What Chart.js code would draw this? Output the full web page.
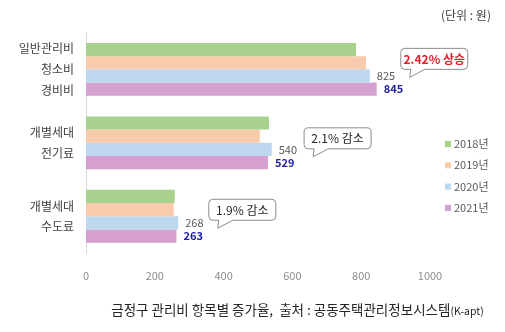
<!DOCTYPE html>
<html>
<head>
<meta charset="utf-8">
<script src="https://cdn.jsdelivr.net/npm/chart.js@4"></script>
<style>
  body { margin: 0; background: #fff; }
  #wrap { position: relative; width: 505px; height: 332px; font-family: "Noto Sans CJK KR", "Noto Sans", sans-serif; }
  #unit { position: absolute; left: 441px; top: 6px; font-size: 12px; color: #404040; }
  #caption { position: absolute; left: 0; width: 595px; top: 299px; text-align: center; font-size: 13.5px; color: #262626; }
  #caption small { font-size: 10.5px; }
</style>
</head>
<body>
<div id="wrap">
  <canvas id="myChart" width="505" height="332"></canvas>
  <div id="unit">(단위 : 원)</div>
  <div id="caption">금정구 관리비 항목별 증가율,&nbsp; 출처 : 공동주택관리정보시스템<small>(K-apt)</small></div>
</div>
<script>
// categories (multi-line labels)
const categories = [["일반관리비", "청소비", "경비비"], ["개별세대", "전기료"], ["개별세대", "수도료"]];
const years = ["2018년", "2019년", "2020년", "2021년"];
const values2018 = [785, 532, 258];
const values2019 = [814, 505, 255];
const values2020 = [825, 540, 268];
const values2021 = [845, 529, 263];
const xTicks = [0, 200, 400, 600, 800, 1000];
const callouts = [
  { cat: 0, text: "2.42% 상승", x: 915 },
  { cat: 1, text: "2.1% 감소", x: 634 },
  { cat: 2, text: "1.9% 감소", x: 357 },
];

const colors = ["#a9d18e", "#f8cbad", "#bdd7ee", "#d59fcf"];
const fontFamily = '"Noto Sans CJK KR", "Noto Sans", sans-serif';

// value labels for 2020 and 2021 only
const valueLabels = {
  id: "valueLabels",
  afterDatasetsDraw(chart) {
    const ctx = chart.ctx;
    ctx.save();
    ctx.textBaseline = "middle";
    ctx.textAlign = "left";
    [2, 3].forEach((di) => {
      const meta = chart.getDatasetMeta(di);
      meta.data.forEach((bar, i) => {
        const v = chart.data.datasets[di].data[i];
        if (di === 3) {
          ctx.font = "bold 11px " + fontFamily;
          ctx.fillStyle = "#2222a8";
        } else {
          ctx.font = "11px " + fontFamily;
          ctx.fillStyle = "#595959";
        }
        ctx.fillText(v, bar.x + 7, bar.y);
      });
    });
    ctx.restore();
  },
};

// speech bubble callouts
const calloutPlugin = {
  id: "callouts",
  afterDatasetsDraw(chart) {
    const ctx = chart.ctx;
    const xs = chart.scales.x;
    const ys = chart.scales.y;
    const dy = [-21, -15, -17];
    ctx.save();
    callouts.forEach((c, i) => {
      const left = xs.getPixelForValue(c.x);
      const top = ys.getPixelForValue(c.cat) + dy[i];
      const w = 67, h = 21, r = 4;
      const bottom = top + h;
      ctx.beginPath();
      ctx.moveTo(left + r, top);
      ctx.lineTo(left + w - r, top);
      ctx.arcTo(left + w, top, left + w, top + r, r);
      ctx.lineTo(left + w, bottom - r);
      ctx.arcTo(left + w, bottom, left + w - r, bottom, r);
      ctx.lineTo(left + 24, bottom);
      ctx.lineTo(left + 9, bottom + 8);
      ctx.lineTo(left + 10, bottom);
      ctx.lineTo(left + r, bottom);
      ctx.arcTo(left, bottom, left, bottom - r, r);
      ctx.lineTo(left, top + r);
      ctx.arcTo(left, top, left + r, top, r);
      ctx.closePath();
      ctx.fillStyle = "#fff";
      ctx.fill();
      ctx.strokeStyle = "#8c8c8c";
      ctx.lineWidth = 1;
      ctx.stroke();
      ctx.textAlign = "center";
      ctx.textBaseline = "middle";
      if (i === 0) {
        ctx.font = "bold 12px " + fontFamily;
        ctx.fillStyle = "#e0202a";
      } else {
        ctx.font = "12px " + fontFamily;
        ctx.fillStyle = "#262626";
      }
      ctx.fillText(c.text, left + w / 2, top + h / 2 + 0.5);
    });
    ctx.restore();
  },
};

// legend on the right side
const sideLegend = {
  id: "sideLegend",
  afterDraw(chart) {
    const ctx = chart.ctx;
    ctx.save();
    ctx.font = "11px " + fontFamily;
    ctx.textBaseline = "middle";
    ctx.textAlign = "left";
    chart.data.datasets.forEach((ds, i) => {
      const y = 144 + i * 21.3;
      ctx.fillStyle = ds.backgroundColor;
      ctx.fillRect(445, y - 3, 6, 6);
      ctx.fillStyle = "#595959";
      ctx.fillText(ds.label, 454, y);
    });
    ctx.restore();
  },
};

const ctx = document.getElementById("myChart");
new Chart(ctx, {
  type: "bar",
  data: {
    labels: categories,
    datasets: [
      { label: years[0], data: values2018, backgroundColor: colors[0] },
      { label: years[1], data: values2019, backgroundColor: colors[1] },
      { label: years[2], data: values2020, backgroundColor: colors[2] },
      { label: years[3], data: values2021, backgroundColor: colors[3] },
    ],
  },
  options: {
    indexAxis: "y",
    responsive: false,
    animation: false,
    layout: { padding: { top: 32, right: 75, bottom: 49, left: 0 } },
    datasets: { bar: { barPercentage: 1, categoryPercentage: 0.72 } },
    plugins: { legend: { display: false }, tooltip: { enabled: false } },
    scales: {
      x: {
        min: 0,
        max: 1000,
        afterBuildTicks: (axis) => {
          axis.ticks = xTicks.map((v) => ({ value: v }));
        },
        afterFit: (axis) => {
          axis.height = 30;
        },
        grid: { display: false },
        border: { display: false },
        ticks: {
          color: "#8c8c8c",
          font: { family: fontFamily, size: 11 },
          padding: 8,
          callback: (value) => String(value),
        },
      },
      y: {
        afterFit: (axis) => {
          axis.width = 86;
        },
        grid: { display: true, drawOnChartArea: false, drawTicks: false },
        border: { display: true, color: "#d9d9d9" },
        ticks: { color: "#404040", padding: 12, font: { family: fontFamily, size: 12, lineHeight: 1.72 } },
      },
    },
  },
  plugins: [valueLabels, calloutPlugin, sideLegend],
});
</script>
</body>
</html>
